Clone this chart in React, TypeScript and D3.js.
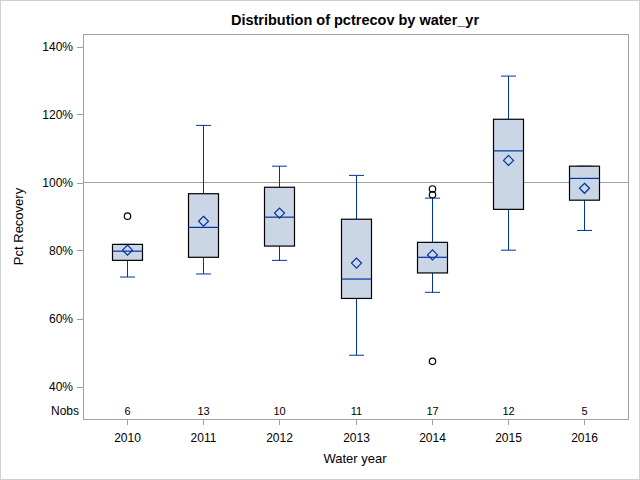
import * as d3 from 'd3'

const years = ['2010', '2011', '2012', '2013', '2014', '2015', '2016']
const q1 = [77.1, 78.0, 81.3, 65.9, 73.4, 92.1, 94.8]
const medians = [79.8, 86.8, 89.8, 71.6, 78.0, 109.3, 101.2]
const q3 = [81.8, 96.7, 98.6, 89.2, 82.4, 118.6, 104.8]
const whiskerLow = [72.2, 73.1, 77.1, 49.2, 67.7, 80.1, 85.9]
const whiskerHigh = [81.8, 116.8, 104.8, 102.1, 95.4, 131.3, 104.8]
const means = [80.1, 88.6, 91.0, 76.3, 78.7, 106.5, 98.3]
const nobs = [6, 13, 10, 11, 17, 12, 5]
const outliers: number[][] = [[90.1], [], [], [], [98.1, 96.4, 47.4], [], []]
const yTicks = [40, 60, 80, 100, 120, 140]
const refLine = 100

const W = 640
const H = 480
const frame = { left: 83, right: 628, top: 34, bottom: 419 }
const font = "'Liberation Sans', Arial, sans-serif"
const blue = '#00349e'
const boxFill = '#cad5e5'
const axisGray = '#a0a0a0'

export default function App() {
  const x = d3
    .scalePoint<string>()
    .domain(years)
    .range([frame.left, frame.right])
    .padding(0.578)
  const y = d3.scaleLinear().domain([40, 140]).range([386.5, 46.5])

  const boxW = 30
  const capW = 15
  const d = 5

  return (
    <svg
      width={W}
      height={H}
      style={{ position: 'fixed', left: 0, top: 0, background: '#fff' }}
      fontFamily={font}
    >
      <rect x={0.5} y={0.5} width={W - 1} height={H - 1} fill="#fff" stroke="#d0d0d0" />
      <text x={355} y={25} textAnchor="middle" fontSize={14.5} fontWeight="bold" fill="#000">
        Distribution of pctrecov by water_yr
      </text>

      {/* reference line */}
      <line
        x1={frame.left}
        x2={frame.right}
        y1={y(refLine)}
        y2={y(refLine)}
        stroke="#a0a0a0"
        strokeWidth={1}
      />

      {years.map((yr, i) => {
        const cx = Math.round(x(yr) ?? 0) + 0.5
        return (
          <g key={yr}>
            <line x1={cx} x2={cx} y1={y(q3[i])} y2={y(whiskerHigh[i])} stroke={blue} />
            <line x1={cx} x2={cx} y1={y(q1[i])} y2={y(whiskerLow[i])} stroke={blue} />
            <line
              x1={cx - capW / 2}
              x2={cx + capW / 2}
              y1={y(whiskerHigh[i])}
              y2={y(whiskerHigh[i])}
              stroke={blue}
            />
            <line
              x1={cx - capW / 2}
              x2={cx + capW / 2}
              y1={y(whiskerLow[i])}
              y2={y(whiskerLow[i])}
              stroke={blue}
            />
            <rect
              x={cx - boxW / 2}
              y={y(q3[i])}
              width={boxW}
              height={y(q1[i]) - y(q3[i])}
              fill={boxFill}
              stroke="#000"
              strokeWidth={1.2}
            />
            <line
              x1={cx - boxW / 2}
              x2={cx + boxW / 2}
              y1={y(medians[i])}
              y2={y(medians[i])}
              stroke={blue}
              strokeWidth={1.2}
            />
            <path
              d={`M${cx},${y(means[i]) - d}L${cx + d},${y(means[i])}L${cx},${y(means[i]) + d}L${cx - d},${y(means[i])}Z`}
              fill="none"
              stroke={blue}
              strokeWidth={1.2}
            />
            {outliers[i].map((v, j) => (
              <circle key={j} cx={cx} cy={y(v)} r={3.2} fill="none" stroke="#000" strokeWidth={1.2} />
            ))}
            <text x={cx} y={415} textAnchor="middle" fontSize={11} fill="#000">
              {nobs[i]}
            </text>
            <line x1={cx} x2={cx} y1={frame.bottom} y2={frame.bottom + 6} stroke={axisGray} />
            <text x={cx} y={442} textAnchor="middle" fontSize={12} fill="#000">
              {yr}
            </text>
          </g>
        )
      })}

      <rect
        x={frame.left + 0.5}
        y={frame.top + 0.5}
        width={frame.right - frame.left}
        height={frame.bottom - frame.top}
        fill="none"
        stroke={axisGray}
      />

      {yTicks.map((t) => (
        <g key={t}>
          <line
            x1={frame.left - 6}
            x2={frame.left}
            y1={Math.round(y(t)) + 0.5}
            y2={Math.round(y(t)) + 0.5}
            stroke={axisGray}
          />
          <text x={frame.left - 10} y={y(t) + 4} textAnchor="end" fontSize={12} fill="#000">
            {`${t}%`}
          </text>
        </g>
      ))}
      <text x={frame.left - 4} y={415} textAnchor="end" fontSize={12} fill="#000">
        Nobs
      </text>

      <text
        transform={`translate(23,${(frame.top + frame.bottom) / 2}) rotate(-90)`}
        textAnchor="middle"
        fontSize={13}
        fill="#000"
      >
        Pct Recovery
      </text>
      <text x={355} y={463} textAnchor="middle" fontSize={13} fill="#000">
        Water year
      </text>
    </svg>
  )
}
